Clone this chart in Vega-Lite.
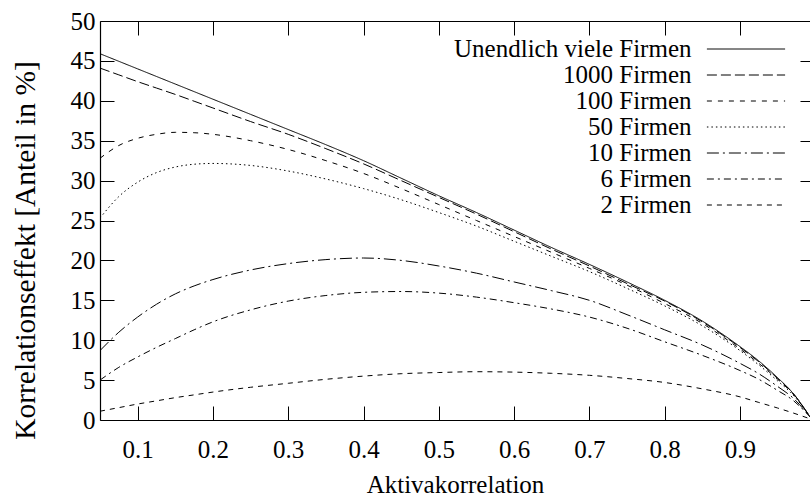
{
  "$schema": "https://vega.github.io/schema/vega-lite/v6.json",
  "autosize": {"type": "none"},
  "padding": {"left": 100, "top": 21, "right": 0, "bottom": 76},
  "width": 710,
  "height": 399,
  "background": "white",
  "config": {
    "view": {"stroke": null},
    "font": "Liberation Serif",
    "axis": {
      "labelFont": "Liberation Serif", "titleFont": "Liberation Serif",
      "labelFontSize": 25, "titleFontSize": 25, "titleFontWeight": "normal",
      "labelColor": "black", "titleColor": "black", "domainColor": "black", "tickColor": "black",
      "domainWidth": 1.2, "tickWidth": 1, "grid": false
    },
    "legend": {"labelFont": "Liberation Serif", "labelFontSize": 25, "labelColor": "black"}
  },
  "data": {"values": [
    {"x": 0.05, "Unendlich viele Firmen": 45.9, "1000 Firmen": 44.1, "100 Firmen": 32.8, "50 Firmen": 25.3, "10 Firmen": 8.7, "6 Firmen": 5.0, "2 Firmen": 1.1},
    {"x": 0.075, "Unendlich viele Firmen": 44.95, "1000 Firmen": 43.25, "100 Firmen": 34.4, "50 Firmen": 28.0, "10 Firmen": 11.0, "6 Firmen": 6.6, "2 Firmen": 1.55},
    {"x": 0.1, "Unendlich viele Firmen": 44.0, "1000 Firmen": 42.4, "100 Firmen": 35.3, "50 Firmen": 29.8, "10 Firmen": 12.9, "6 Firmen": 7.9, "2 Firmen": 2.0},
    {"x": 0.125, "Unendlich viele Firmen": 43.05, "1000 Firmen": 41.6, "100 Firmen": 35.8, "50 Firmen": 31.0, "10 Firmen": 14.5, "6 Firmen": 9.1, "2 Firmen": 2.4},
    {"x": 0.15, "Unendlich viele Firmen": 42.1, "1000 Firmen": 40.8, "100 Firmen": 36.05, "50 Firmen": 31.7, "10 Firmen": 15.8, "6 Firmen": 10.2, "2 Firmen": 2.8},
    {"x": 0.175, "Unendlich viele Firmen": 41.15, "1000 Firmen": 39.95, "100 Firmen": 36.0, "50 Firmen": 32.05, "10 Firmen": 16.8, "6 Firmen": 11.3, "2 Firmen": 3.15},
    {"x": 0.2, "Unendlich viele Firmen": 40.2, "1000 Firmen": 39.1, "100 Firmen": 35.8, "50 Firmen": 32.15, "10 Firmen": 17.6, "6 Firmen": 12.3, "2 Firmen": 3.5},
    {"x": 0.25, "Unendlich viele Firmen": 38.3, "1000 Firmen": 37.4, "100 Firmen": 35.0, "50 Firmen": 31.9, "10 Firmen": 18.8, "6 Firmen": 13.8, "2 Firmen": 4.1},
    {"x": 0.3, "Unendlich viele Firmen": 36.4, "1000 Firmen": 35.8, "100 Firmen": 33.9, "50 Firmen": 31.2, "10 Firmen": 19.6, "6 Firmen": 14.9, "2 Firmen": 4.6},
    {"x": 0.35, "Unendlich viele Firmen": 34.5, "1000 Firmen": 34.0, "100 Firmen": 32.5, "50 Firmen": 30.2, "10 Firmen": 20.1, "6 Firmen": 15.6, "2 Firmen": 5.1},
    {"x": 0.4, "Unendlich viele Firmen": 32.5, "1000 Firmen": 32.1, "100 Firmen": 30.9, "50 Firmen": 29.0, "10 Firmen": 20.3, "6 Firmen": 16.0, "2 Firmen": 5.5},
    {"x": 0.45, "Unendlich viele Firmen": 30.3, "1000 Firmen": 30.0, "100 Firmen": 29.0, "50 Firmen": 27.6, "10 Firmen": 20.0, "6 Firmen": 16.1, "2 Firmen": 5.8},
    {"x": 0.5, "Unendlich viele Firmen": 28.1, "1000 Firmen": 27.9, "100 Firmen": 27.0, "50 Firmen": 26.0, "10 Firmen": 19.3, "6 Firmen": 15.9, "2 Firmen": 5.95},
    {"x": 0.55, "Unendlich viele Firmen": 26.0, "1000 Firmen": 25.8, "100 Firmen": 25.0, "50 Firmen": 24.3, "10 Firmen": 18.4, "6 Firmen": 15.4, "2 Firmen": 6.05},
    {"x": 0.6, "Unendlich viele Firmen": 23.8, "1000 Firmen": 23.6, "100 Firmen": 23.0, "50 Firmen": 22.4, "10 Firmen": 17.3, "6 Firmen": 14.7, "2 Firmen": 6.0},
    {"x": 0.65, "Unendlich viele Firmen": 21.6, "1000 Firmen": 21.4, "100 Firmen": 21.0, "50 Firmen": 20.5, "10 Firmen": 16.2, "6 Firmen": 13.9, "2 Firmen": 5.85},
    {"x": 0.7, "Unendlich viele Firmen": 19.5, "1000 Firmen": 19.3, "100 Firmen": 19.0, "50 Firmen": 18.6, "10 Firmen": 15.0, "6 Firmen": 12.9, "2 Firmen": 5.6},
    {"x": 0.75, "Unendlich viele Firmen": 17.3, "1000 Firmen": 17.1, "100 Firmen": 16.9, "50 Firmen": 16.5, "10 Firmen": 13.2, "6 Firmen": 11.5, "2 Firmen": 5.2},
    {"x": 0.8, "Unendlich viele Firmen": 15.0, "1000 Firmen": 14.9, "100 Firmen": 14.6, "50 Firmen": 14.3, "10 Firmen": 11.3, "6 Firmen": 9.8, "2 Firmen": 4.7},
    {"x": 0.85, "Unendlich viele Firmen": 12.4, "1000 Firmen": 12.3, "100 Firmen": 12.1, "50 Firmen": 11.8, "10 Firmen": 9.4, "6 Firmen": 8.1, "2 Firmen": 3.9},
    {"x": 0.9, "Unendlich viele Firmen": 9.2, "1000 Firmen": 9.1, "100 Firmen": 8.9, "50 Firmen": 8.7, "10 Firmen": 7.1, "6 Firmen": 6.2, "2 Firmen": 2.9},
    {"x": 0.925, "Unendlich viele Firmen": 7.4, "1000 Firmen": 7.3, "100 Firmen": 7.1, "50 Firmen": 6.9, "10 Firmen": 5.8, "6 Firmen": 5.1, "2 Firmen": 2.2},
    {"x": 0.95, "Unendlich viele Firmen": 5.3, "1000 Firmen": 5.2, "100 Firmen": 5.1, "50 Firmen": 4.9, "10 Firmen": 4.2, "6 Firmen": 3.7, "2 Firmen": 1.5},
    {"x": 0.97, "Unendlich viele Firmen": 3.4, "1000 Firmen": 3.4, "100 Firmen": 3.3, "50 Firmen": 3.2, "10 Firmen": 2.8, "6 Firmen": 2.5, "2 Firmen": 0.9},
    {"x": 0.993, "Unendlich viele Firmen": 0.4, "1000 Firmen": 0.4, "100 Firmen": 0.4, "50 Firmen": 0.4, "10 Firmen": 0.4, "6 Firmen": 0.4, "2 Firmen": 0.15}
  ]},
  "transform": [
    {"fold": ["Unendlich viele Firmen", "1000 Firmen", "100 Firmen", "50 Firmen", "10 Firmen", "6 Firmen", "2 Firmen"], "as": ["s", "y"]}
  ],
  "layer": [
    {
      "mark": {"type": "line", "color": "black", "strokeWidth": 1, "interpolate": "monotone", "clip": true},
      "encoding": {
        "x": {"field": "x", "type": "quantitative",
              "scale": {"domain": [0.05, 0.993], "nice": false, "zero": false},
              "axis": {"orient": "bottom", "values": [0.1, 0.2, 0.3, 0.4, 0.5, 0.6, 0.7, 0.8, 0.9], "format": ".1f",
                       "tickSize": -14, "labelPadding": 31, "labelFlush": false, "labelOverlap": false,
                       "title": "Aktivakorrelation", "titleY": 72, "titleBaseline": "alphabetic"}},
        "y": {"field": "y", "type": "quantitative",
              "scale": {"domain": [0, 50], "nice": false},
              "axis": {"orient": "left", "values": [0, 5, 10, 15, 20, 25, 30, 35, 40, 45, 50],
                       "tickSize": -14, "labelPadding": 19, "labelFlush": false, "labelOverlap": false,
                       "title": "Korrelationseffekt [Anteil in %]", "titleFontSize": 29.5, "titleX": -75, "titleY": 229, "titleBaseline": "middle", "titleAngle": 270}},
        "strokeDash": {"field": "s", "type": "nominal",
          "scale": {"domain": ["Unendlich viele Firmen", "1000 Firmen", "100 Firmen", "50 Firmen", "10 Firmen", "6 Firmen", "2 Firmen"],
                    "range": [[1, 0], [10, 4], [5, 6], [1.5, 3], [12, 4, 2, 4], [7, 4, 2, 4], [5, 5]]},
          "legend": {"orient": "none", "legendX": 607, "legendY": 15.5, "title": null, "padding": 0,
                     "symbolType": "M-3.4,0H3.4", "symbolSize": 529, "symbolStrokeWidth": 1, "symbolStrokeColor": "black",
                     "symbolOpacity": 1, "symbolOffset": 26.5, "labelLimit": 400,
                     "labelAlign": "right", "labelOffset": -67, "rowPadding": 0}}
      }
    },
    {
      "mark": {"type": "point", "opacity": 0},
      "encoding": {
        "x": {"field": "x", "type": "quantitative",
              "axis": {"orient": "top", "values": [0.1, 0.2, 0.3, 0.4, 0.5, 0.6, 0.7, 0.8, 0.9], "labels": false, "tickSize": -14, "title": null}},
        "y": {"field": "y", "type": "quantitative",
              "axis": {"orient": "right", "values": [0, 5, 10, 15, 20, 25, 30, 35, 40, 45, 50], "labels": false, "tickSize": -10, "domain": false, "title": null}}
      }
    }
  ],
  "resolve": {"axis": {"x": "independent", "y": "independent"}}
}
